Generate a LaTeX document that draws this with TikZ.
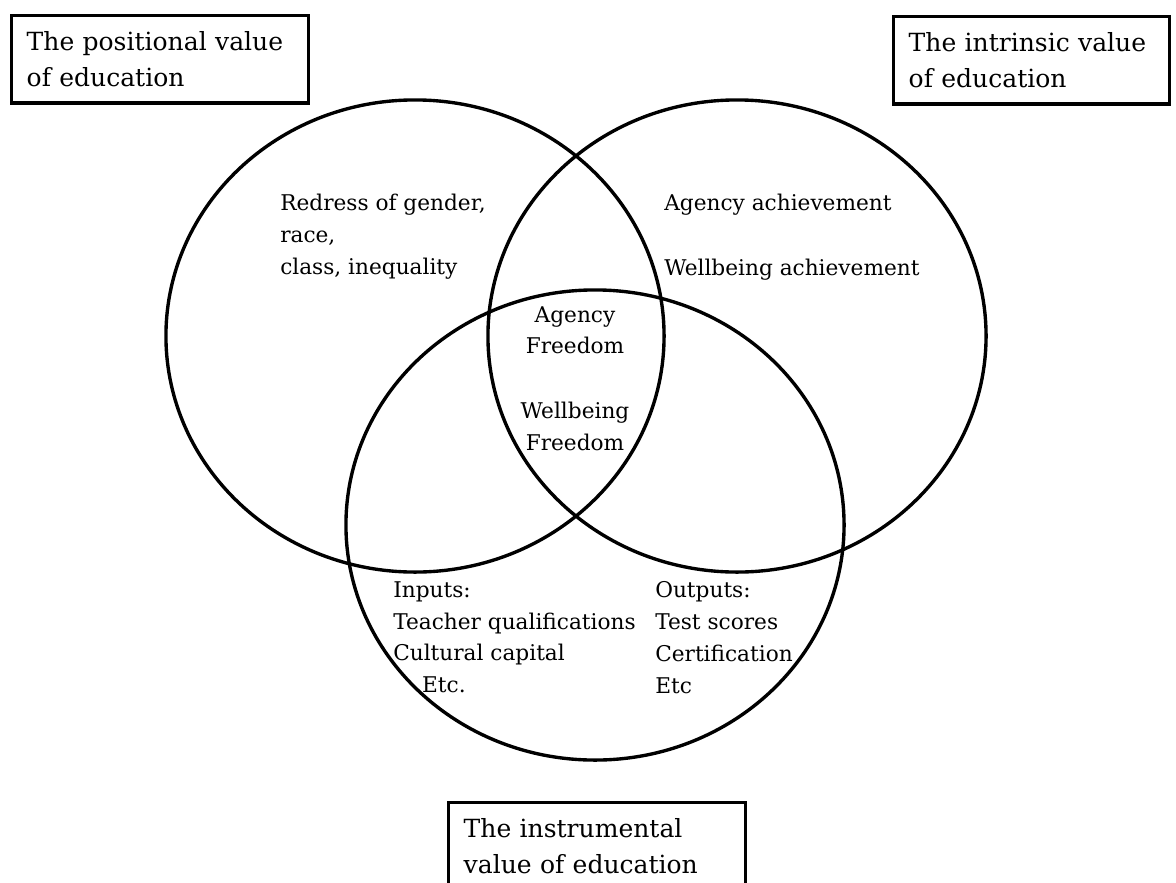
\documentclass[tikz,border=0pt]{standalone}
\usepackage{fontspec}
\setmainfont{DejaVu Serif}
\usetikzlibrary{shapes.geometric}
\tikzset{
  ring/.style={draw, ellipse, line width=2.4pt, inner sep=0pt, minimum width=12.45cm, minimum height=11.8cm},
  valuebox/.style={draw, rectangle, line width=2.4pt, anchor=north west, align=left,
    inner xsep=0.375cm, inner ysep=0.4cm, text width=6.675cm,
    font=\fontsize{17.8}{25.5}\selectfont},
  areatext/.style={inner sep=0pt, anchor=north west, align=left,
    font=\fontsize{15.4}{22.7}\selectfont}
}
\begin{document}
\begin{tikzpicture}[x=0.025cm, y=-0.025cm]
      \clip (0,0) rectangle (1176,882);
      \path
        (415,336) node[ring] (positional){}
        (737,336) node[ring] (intrinsic){}
        (595,525) node[ring, minimum height=11.75cm] (instrumental){};
      \path
        (10,14) node[valuebox] (positionalbox){The positional value\\of education}
        (892,15) node[valuebox, text width=6.15cm] (intrinsicbox){The intrinsic value\\of education}
        (447,801) node[valuebox] (instrumentalbox){The instrumental\\value of education};
      \path
        (280,194) node[areatext] (redress){Redress of gender,\\race,\\class, inequality}
        (664,194) node[areatext] (agencyach){Agency achievement}
        (664,259) node[areatext] (wellbeingach){Wellbeing achievement}
        (575,306) node[areatext, anchor=north, align=center] (agencyfree){Agency\\Freedom}
        (575,402) node[areatext, anchor=north, align=center] (wellbeingfree){Wellbeing\\Freedom}
        (393,581) node[areatext] (inputs){Inputs:\\Teacher qualifications\\Cultural capital\\\hspace*{20.5pt}Etc.}
        (655,581) node[areatext] (outputs){Outputs:\\Test scores\\Certification\\Etc};
\end{tikzpicture}
\end{document}
